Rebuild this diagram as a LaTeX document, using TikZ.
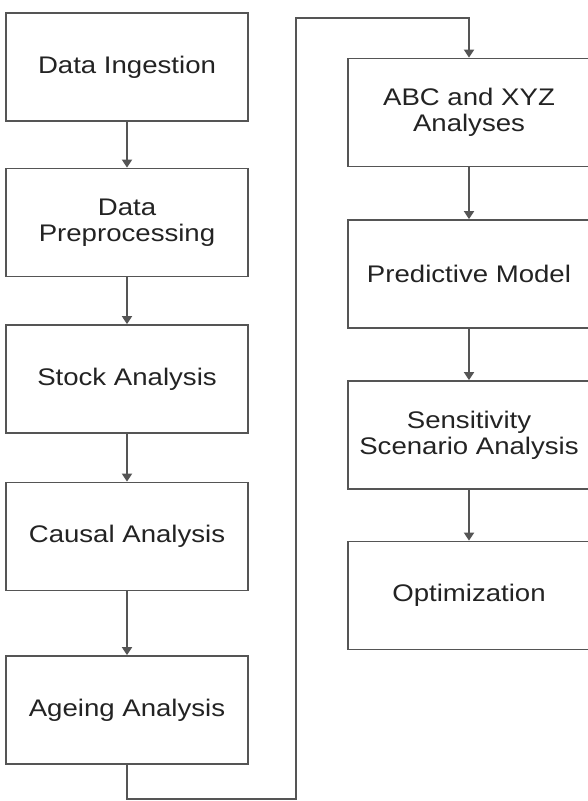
\documentclass[tikz,border=0pt]{standalone}
\usepackage{fontspec}
\setmainfont{Liberation Sans}[FakeStretch=1.15]
\usetikzlibrary{arrows.meta}
\definecolor{linegray}{RGB}{85,85,85}
\definecolor{textdark}{RGB}{35,35,35}

\begin{document}
\begin{tikzpicture}[x=1pt, y=-1pt,
    stage/.style={draw=linegray, line width=1.8pt, minimum width=242pt,
        minimum height=108pt, align=center, text=textdark,
        font=\fontsize{24}{26}\selectfont},
    flow/.style={draw=linegray, line width=1.8pt,
        -{Triangle[width=10pt,length=8pt]}}]
    \useasboundingbox (0,0) rectangle (587,801);

    % Left column
    \node[stage] (ingest) at (127, 67) {Data Ingestion};
    \node[stage] (prep)   at (127, 222.5) {Data\\Preprocessing};
    \node[stage] (stock)  at (127, 379) {Stock Analysis};
    \node[stage] (causal) at (127, 536.5) {Causal Analysis};
    \node[stage] (ageing) at (127, 710) {Ageing Analysis};

    % Right column
    \node[stage] (abc)     at (469, 112.5) {ABC and XYZ\\Analyses};
    \node[stage] (predict) at (469, 274) {Predictive Model};
    \node[stage] (sens)    at (469, 435) {Sensitivity\\Scenario Analysis};
    \node[stage] (optim)   at (469, 595.5) {Optimization};

    % Arrows down each column
    \draw[flow] (ingest) -- (prep);
    \draw[flow] (prep) -- (stock);
    \draw[flow] (stock) -- (causal);
    \draw[flow] (causal) -- (ageing);
    \draw[flow] (abc) -- (predict);
    \draw[flow] (predict) -- (sens);
    \draw[flow] (sens) -- (optim);

    % Link from the bottom of the left column to the top of the right one
    \coordinate (low) at (296, 799);
    \coordinate (high) at (296, 18);
    \draw[flow] (ageing.south) |- (low) -- (high) -| (abc.north);
\end{tikzpicture}
\end{document}
